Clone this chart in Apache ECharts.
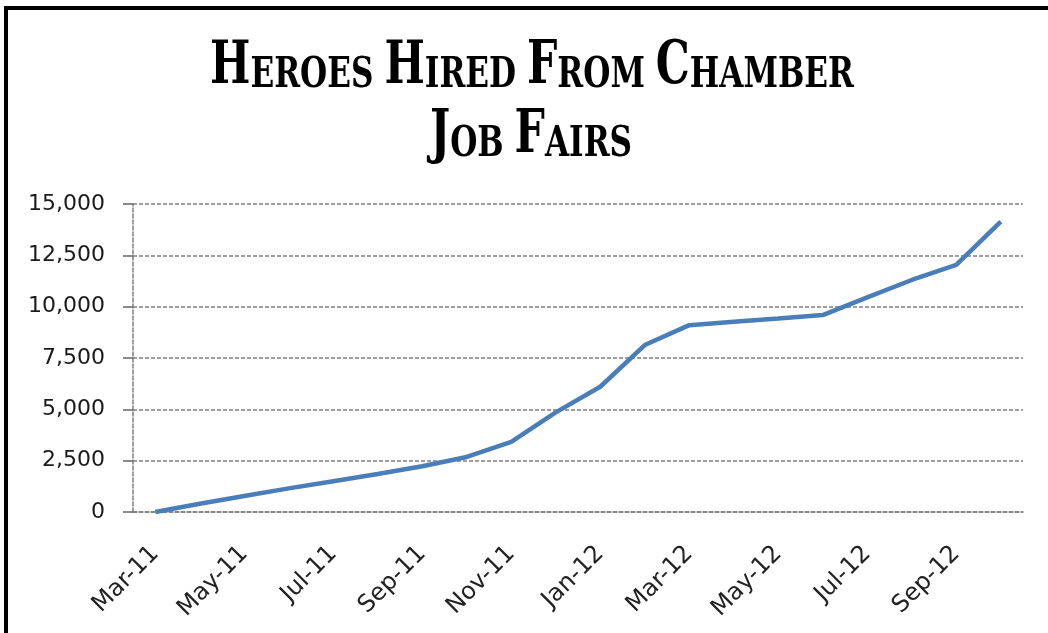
<!DOCTYPE html>
<html>
<head>
<meta charset="utf-8">
<script src="https://cdn.jsdelivr.net/npm/echarts@6/dist/echarts.min.js"></script>
<style>
  html, body { margin: 0; padding: 0; background: #fff; }
  #chart { width: 1048px; height: 633px; }
</style>
</head>
<body>
<div id="chart"></div>
<script>
// monthly categories (date axis shown every 2 months)
const months = [
  "Mar-11", "Apr-11", "May-11", "Jun-11", "Jul-11", "Aug-11", "Sep-11",
  "Oct-11", "Nov-11", "Dec-11", "Jan-12", "Feb-12", "Mar-12", "Apr-12",
  "May-12", "Jun-12", "Jul-12", "Aug-12", "Sep-12", "Oct-12"
];
// cumulative heroes hired
const hires = [
  0, 400, 780, 1150, 1500, 1850, 2230, 2680, 3410, 4850,
  6100, 8130, 9100, 9260, 9420, 9590, 10450, 11300, 12030, 14140
];
const yTicks = [0, 2500, 5000, 7500, 10000, 12500, 15000];

// small caps title: big initials, smaller capitals
const titleLine1 = "{b|H}{s|EROES }{b|H}{s|IRED }{b|F}{s|ROM }{b|C}{s|HAMBER}";
const titleLine2 = "{b|J}{s|OB }{b|F}{s|AIRS}";

const chart = echarts.init(document.getElementById("chart"));

const labelFont = "DejaVu Sans";
const titleRich = {
  b: {
    fontFamily: "DejaVu Serif",
    fontWeight: "bold",
    fontSize: 59,
    lineHeight: 59,
    verticalAlign: "bottom",
    color: "#111",
  },
  s: {
    fontFamily: "DejaVu Serif",
    fontWeight: "bold",
    fontSize: 43,
    lineHeight: 49,
    verticalAlign: "bottom",
    color: "#111",
  },
};

chart.setOption({
  animation: false,
  backgroundColor: "#fff",
  graphic: [
    // chart frame (right and bottom edges fall outside the picture)
    {
      type: "rect",
      shape: { x: 6, y: 8, width: 1200, height: 800 },
      style: { fill: null, stroke: "#000", lineWidth: 4 },
      silent: true,
    },
    {
      type: "text",
      x: 532,
      y: 97,
      scaleX: 0.725,
      style: {
        text: titleLine1,
        rich: titleRich,
        align: "center",
        verticalAlign: "bottom",
      },
    },
    {
      type: "text",
      x: 531,
      y: 166,
      scaleX: 0.725,
      style: {
        text: titleLine2,
        rich: titleRich,
        align: "center",
        verticalAlign: "bottom",
      },
    },
  ],
  grid: {
    left: 133,
    right: 25,
    top: 204,
    bottom: 121,
  },
  xAxis: {
    type: "category",
    data: months,
    boundaryGap: true,
    axisLine: {
      lineStyle: { color: "#7f7f7f", width: 1.5, type: [4, 2] },
    },
    axisTick: {
      interval: 1,
      length: 9,
      lineStyle: { color: "#666", width: 1.5 },
    },
    axisLabel: {
      interval: 1,
      rotate: 45,
      margin: 38,
      fontFamily: labelFont,
      fontSize: 24,
      color: "#222",
    },
  },
  yAxis: {
    type: "value",
    min: yTicks[0],
    max: yTicks[yTicks.length - 1],
    interval: yTicks[1] - yTicks[0],
    axisLine: {
      show: true,
      lineStyle: { color: "#7f7f7f", width: 1.5, type: [4, 2] },
    },
    axisTick: {
      show: true,
      length: 10,
      lineStyle: { color: "#666", width: 1.5 },
    },
    splitLine: {
      lineStyle: { color: "#7f7f7f", width: 1.5, type: [4, 2] },
    },
    axisLabel: {
      margin: 28,
      fontFamily: labelFont,
      fontSize: 22,
      color: "#1a1a1a",
      formatter: (v) => v.toLocaleString("en-US"),
    },
  },
  series: [
    {
      name: "Heroes Hired",
      type: "line",
      data: hires,
      symbol: "none",
      lineStyle: { color: "#4a7ebb", width: 4.5 },
    },
  ],
});
</script>
</body>
</html>
